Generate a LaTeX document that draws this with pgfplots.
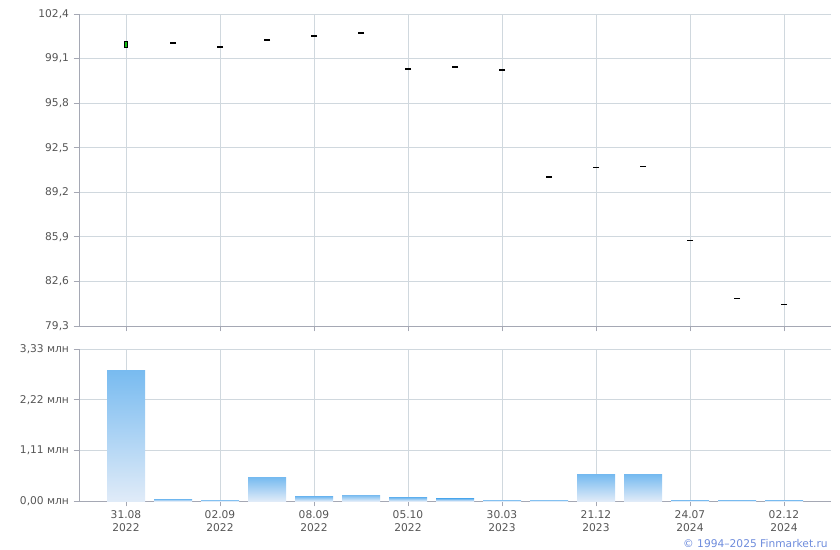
\documentclass[border=0pt]{standalone}
\usepackage{fontspec}
\setmainfont{DejaVu Sans}
\usepackage{pgfplots}
\pgfplotsset{compat=1.18}
\definecolor{gridc}{RGB}{208,216,222}
\definecolor{axc}{RGB}{165,168,180}
\definecolor{tickc}{RGB}{85,85,85}
\definecolor{bartop}{RGB}{120,187,240}
\definecolor{barbot}{RGB}{224,235,248}
\definecolor{candle}{RGB}{20,190,20}
\definecolor{copyc}{RGB}{110,140,220}
\pgfplotsset{
  common/.style={
    scale only axis, width=564pt,
    xmin=-1, xmax=15,
    axis x line*=bottom, axis y line*=left,
    xtick={0,2,...,14},
    grid=major, major grid style={gridc, line width=0.75pt},
    axis line style={axc, line width=0.75pt},
    tick style={axc, line width=0.75pt}, tick align=outside, major tick length=4pt,
    ticklabel style={font=\fontsize{8}{9.5}\selectfont, text=tickc},
  },
  vbar/.style={ybar, bar width=28.5pt, draw=none, top color=bartop, bottom color=barbot},
}
\begin{document}
\begin{tikzpicture}
\useasboundingbox (0,0) rectangle (630pt,-412.5pt);
\begin{axis}[common, at={(59.25pt,-244.5pt)}, anchor=south west, height=234pt,
  ymin=79.3, ymax=102.4, xticklabels={},
  ytick={79.3,82.6,85.9,89.2,92.5,95.8,99.1,102.4},
  yticklabels={{79,3},{82,6},{85,9},{89,2},{92,5},{95,8},{99,1},{102,4}},
]
\addplot[black, line width=3pt] coordinates {(0,99.88) (0,100.42)};
\addplot[candle, line width=1.5pt] coordinates {(0,99.94) (0,100.36)};
\addplot[only marks, mark=-, mark size=2.25pt, mark options={line width=0.9pt, black}] coordinates {
(1,100.25) (2,99.96) (3,100.47) (4,100.77) (5,100.99) (6,98.33) (7,98.47)
(8,98.25) (9,90.33) (10,91.04) (11,91.12) (12,85.64) (13,81.34) (14,80.90)};
\end{axis}
\begin{axis}[common, at={(59.25pt,-375.75pt)}, anchor=south west, height=114pt,
  ymin=0, ymax=3.33,
  xticklabel style={align=center},
  xticklabels={{31.08\\2022},{02.09\\2022},{08.09\\2022},{05.10\\2022},{30.03\\2023},{21.12\\2023},{24.07\\2024},{02.12\\2024}},
  ytick={0,1.11,2.22,3.33},
  yticklabels={{0,00 млн},{1,11 млн},{2,22 млн},{3,33 млн}},
]
\addplot[vbar] coordinates {(0,2.87)};
\addplot[vbar] coordinates {(1,0.04)};
\addplot[vbar] coordinates {(2,0.025)};
\addplot[vbar] coordinates {(3,0.51)};
\addplot[vbar] coordinates {(4,0.094)};
\addplot[vbar] coordinates {(5,0.13)};
\addplot[vbar] coordinates {(6,0.07)};
\addplot[vbar] coordinates {(7,0.045)};
\addplot[vbar] coordinates {(8,0.025)};
\addplot[vbar] coordinates {(9,0.025)};
\addplot[vbar] coordinates {(10,0.57)};
\addplot[vbar] coordinates {(11,0.57)};
\addplot[vbar] coordinates {(12,0.02)};
\addplot[vbar] coordinates {(13,0.02)};
\addplot[vbar] coordinates {(14,0.02)};
\end{axis}
\node[anchor=south east, text=copyc, font=\fontsize{8}{9.5}\selectfont, inner sep=1pt] at (622pt,-412pt) {© 1994–2025 Finmarket.ru};
\end{tikzpicture}
\end{document}
